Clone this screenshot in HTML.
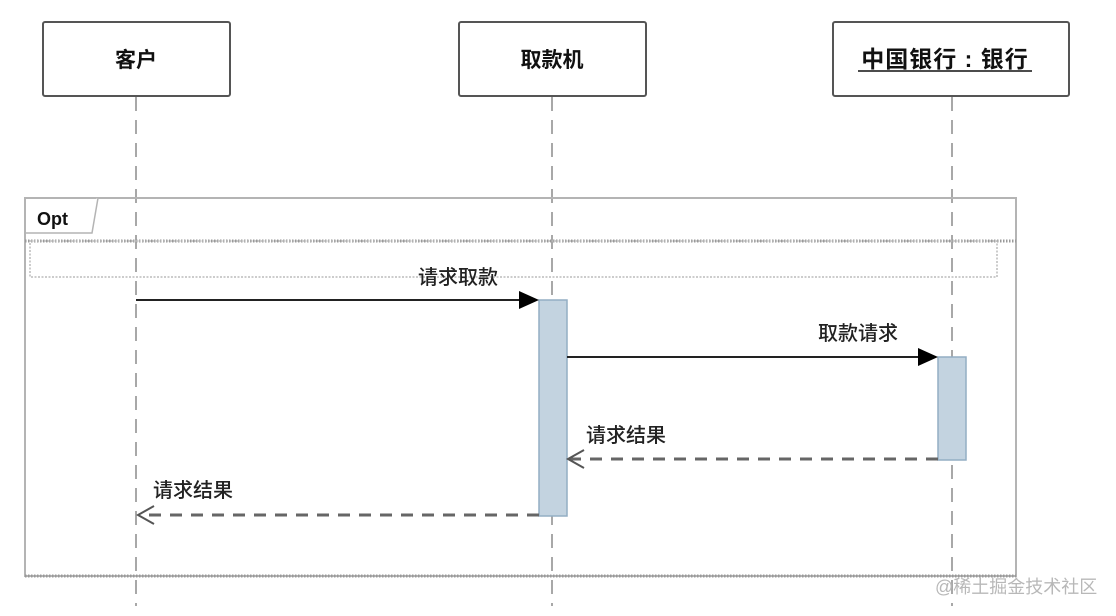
<!DOCTYPE html>
<html><head><meta charset="utf-8"><style>
html,body{margin:0;padding:0;background:#fff;}
svg{display:block;}
text{font-family:"Liberation Sans","Noto Sans CJK SC",sans-serif;}
</style></head><body>
<svg width="1116" height="616" viewBox="0 0 1116 616" xmlns="http://www.w3.org/2000/svg">
<g stroke="#a8a8a8" stroke-width="2" stroke-dasharray="14,9">
<line x1="136" y1="97" x2="136" y2="606"/>
<line x1="552" y1="97" x2="552" y2="606"/>
<line x1="952" y1="97" x2="952" y2="606"/>
</g>
<rect x="25" y="198" width="991" height="378" fill="none" stroke="#b4b4b4" stroke-width="2"/>
<path d="M25 233 L92 233 L98 198" fill="#fff" stroke="#b4b4b4" stroke-width="1.5"/>
<text x="37" y="225" font-size="18" font-weight="bold" fill="#111">Opt</text>
<line x1="25" y1="241" x2="1016" y2="241" stroke="#999" stroke-width="3" stroke-dasharray="1.5,1.5"/>
<rect x="30" y="241" width="967" height="36" fill="none" stroke="#bbb" stroke-width="1.5" stroke-dasharray="2,1.5"/>
<line x1="25" y1="576" x2="1016" y2="576" stroke="#999" stroke-width="3" stroke-dasharray="1.5,1.5"/>
<g fill="#fff" stroke="#555" stroke-width="2">
<rect x="43" y="22" width="187" height="74" rx="2"/>
<rect x="459" y="22" width="187" height="74" rx="2"/>
<rect x="833" y="22" width="236" height="74" rx="2"/>
</g>
<g font-size="21" font-weight="bold" fill="#111" text-anchor="middle">
<text x="136" y="67">客户</text>
<text x="552" y="67">取款机</text>
<text x="945" y="67" font-size="23" letter-spacing="1">中国银行 : 银行</text>
</g>
<line x1="858" y1="71" x2="1032" y2="71" stroke="#111" stroke-width="1.5"/>
<rect x="539" y="300" width="28" height="216" fill="#c3d3e0" stroke="#93aec4" stroke-width="1.5"/>
<rect x="938" y="357" width="28" height="103" fill="#c3d3e0" stroke="#93aec4" stroke-width="1.5"/>
<line x1="136" y1="300" x2="520" y2="300" stroke="#222" stroke-width="2"/>
<polygon points="519,291 539,300 519,309" fill="#000"/>
<line x1="567" y1="357" x2="919" y2="357" stroke="#222" stroke-width="2"/>
<polygon points="918,348 938,357 918,366" fill="#000"/>
<line x1="938" y1="459" x2="570" y2="459" stroke="#666" stroke-width="3" stroke-dasharray="12,9"/>
<polyline points="584,450 568,459 584,468" fill="none" stroke="#555" stroke-width="2"/>
<line x1="539" y1="515" x2="140" y2="515" stroke="#666" stroke-width="3" stroke-dasharray="12,9"/>
<polyline points="154,506 138,515 154,524" fill="none" stroke="#555" stroke-width="2"/>
<g font-size="20" fill="#222" font-weight="500">
<text x="418" y="284">请求取款</text>
<text x="818" y="340">取款请求</text>
<text x="586" y="442">请求结果</text>
<text x="153" y="497">请求结果</text>
</g>
<text x="935" y="593" font-size="18" fill="#b8b8b8">@稀土掘金技术社区</text>
</svg>
</body></html>
